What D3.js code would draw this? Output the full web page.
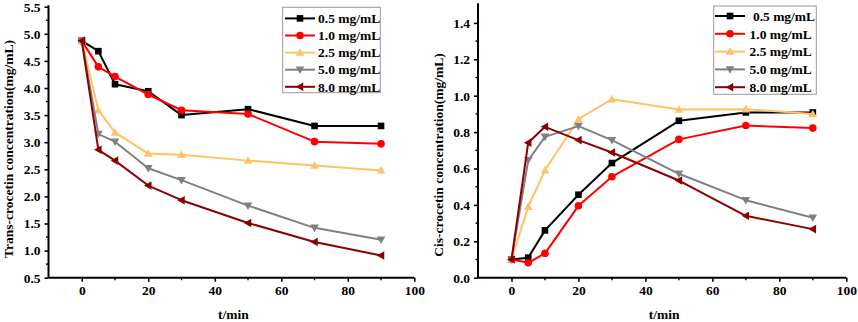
<!DOCTYPE html>
<html>
<head>
<meta charset="utf-8">
<script src="https://cdn.jsdelivr.net/npm/d3@7/dist/d3.min.js"></script>
<style>
html,body{margin:0;padding:0;background:#fff;}
svg{display:block;}
text{font-family:"Liberation Serif","Times New Roman",serif;font-weight:bold;}
</style>
</head>
<body>
<svg id="chart" width="858" height="322"></svg>
<script>
const times = [0, 5, 10, 20, 30, 50, 70, 90];
const seriesLabels = ["0.5 mg/mL", "1.0 mg/mL", "2.5 mg/mL", "5.0 mg/mL", "8.0 mg/mL"];
const rightLabels = [" 0.5 mg/mL", "1.0 mg/mL", "2.5 mg/mL", "5.0 mg/mL", "8.0 mg/mL"];
const colors = ["#000000", "#ff0000", "#ffc266", "#808080", "#8b0000"];
const symbols = ["square", "circle", "up", "down", "left"];

// Trans-crocetin (left)
const trans05 = [4.87, 4.68, 4.07, 3.94, 3.50, 3.61, 3.30, 3.30];
const trans10 = [4.87, 4.39, 4.21, 3.88, 3.59, 3.52, 3.01, 2.97];
const trans25 = [4.87, 3.59, 3.18, 2.79, 2.77, 2.66, 2.57, 2.48];
const trans50 = [4.87, 3.15, 3.01, 2.52, 2.30, 1.83, 1.42, 1.20];
const trans80 = [4.87, 2.86, 2.66, 2.20, 1.93, 1.51, 1.16, 0.91];

// Cis-crocetin (right)
const cis05 = [0.10, 0.11, 0.26, 0.456, 0.63, 0.862, 0.908, 0.908];
const cis10 = [0.10, 0.082, 0.134, 0.395, 0.555, 0.76, 0.836, 0.822];
const cis25 = [0.10, 0.39, 0.59, 0.871, 0.981, 0.924, 0.926, 0.899];
const cis50 = [0.10, 0.645, 0.774, 0.833, 0.756, 0.571, 0.426, 0.329];
const cis80 = [0.10, 0.742, 0.829, 0.756, 0.688, 0.534, 0.34, 0.267];

const xTicks = [0, 20, 40, 60, 80, 100];
const leftYTicks = [0.5, 1.0, 1.5, 2.0, 2.5, 3.0, 3.5, 4.0, 4.5, 5.0, 5.5];
const rightYTicks = [0.0, 0.2, 0.4, 0.6, 0.8, 1.0, 1.2, 1.4];

const svg = d3.select("#chart");

function marker(g, type, x, y, color) {
  let p;
  if (type === "square") {
    g.append("rect").attr("x", x - 3.3).attr("y", y - 3.3).attr("width", 6.6).attr("height", 6.6).attr("fill", color);
    return;
  }
  if (type === "circle") {
    g.append("circle").attr("cx", x).attr("cy", y).attr("r", 3.8).attr("fill", color);
    return;
  }
  const t = 4.3;
  if (type === "up") p = [[x, y - t], [x + t, y + t * 0.75], [x - t, y + t * 0.75]];
  if (type === "down") p = [[x, y + t], [x + t, y - t * 0.75], [x - t, y - t * 0.75]];
  if (type === "left") p = [[x - t, y], [x + t * 0.75, y - t], [x + t * 0.75, y + t]];
  g.append("path").attr("d", "M" + p.map(d => d.join(",")).join("L") + "Z").attr("fill", color);
}

function panel(cfg) {
  const x = d3.scaleLinear().domain([-10, 100]).range(cfg.xr);
  const y = d3.scaleLinear().domain(cfg.yd).range(cfg.yr);
  const g = svg.append("g");

  const xMinor = d3.range(10, 100, 20);
  const yMinor = cfg.yMinor;
  const axX = g.append("g").attr("transform", `translate(0,${cfg.yr[0]})`)
    .call(d3.axisBottom(x).tickValues(xTicks).tickSize(4).tickSizeOuter(0).tickPadding(4).tickFormat(d3.format("d")));
  axX.select(".domain").attr("stroke-width", 2).attr("d", `M${cfg.xr[0]},0H${cfg.xr[1]}`);
  axX.selectAll(".tick line").attr("stroke-width", 1.6);
  axX.selectAll("text").attr("font-size", 13.5).attr("font-family", "Liberation Serif").attr("font-weight", "bold").attr("fill", "#000");
  axX.selectAll(".minor").data(xMinor).enter().append("line").attr("class", "minor")
    .attr("x1", d => x(d)).attr("x2", d => x(d)).attr("y1", 0).attr("y2", 2.5).attr("stroke", "#000").attr("stroke-width", 1.4);

  const axY = g.append("g").attr("transform", `translate(${cfg.xr[0]},0)`)
    .call(d3.axisLeft(y).tickValues(cfg.yTicks).tickSize(4).tickSizeOuter(0).tickPadding(4).tickFormat(d3.format(".1f")));
  axY.select(".domain").attr("stroke-width", 2).attr("d", `M0,${cfg.yr[0]}V${cfg.yr[1] - 1.5}`);
  axY.selectAll(".tick line").attr("stroke-width", 1.6);
  axY.selectAll("text").attr("font-size", 13.5).attr("font-family", "Liberation Serif").attr("font-weight", "bold").attr("fill", "#000");
  axY.selectAll(".minor").data(yMinor).enter().append("line").attr("class", "minor")
    .attr("y1", d => y(d)).attr("y2", d => y(d)).attr("x1", 0).attr("x2", -2.5).attr("stroke", "#000").attr("stroke-width", 1.4);

  g.append("text").attr("x", (cfg.xr[0] + cfg.xr[1]) / 2 + 2).attr("y", 319)
    .attr("text-anchor", "middle").attr("font-size", 13.5).text("t/min");
  g.append("text").attr("transform", `translate(${cfg.ytx},${cfg.ytc}) rotate(-90)`)
    .attr("text-anchor", "middle").attr("dy", "0.35em").attr("font-size", 13.5).text(cfg.ytitle);

  const line = d3.line().x((d, i) => x(times[i])).y(d => y(d));
  cfg.series.forEach((vals, si) => {
    g.append("path").datum(vals).attr("d", line).attr("fill", "none")
      .attr("stroke", colors[si]).attr("stroke-width", 2).attr("stroke-linejoin", "round");
    vals.forEach((v, i) => marker(g, symbols[si], x(times[i]), y(v), colors[si]));
  });

  const L = cfg.legend;
  const lg = g.append("g");
  lg.append("rect").attr("x", L.x).attr("y", L.y).attr("width", L.w).attr("height", L.h)
    .attr("fill", "#fff").attr("stroke", "#999").attr("stroke-width", 1);
  cfg.labels.forEach((lab, i) => {
    const yy = L.row0 + i * L.step;
    lg.append("line").attr("x1", L.lx).attr("x2", L.lx + 30).attr("y1", yy).attr("y2", yy)
      .attr("stroke", colors[i]).attr("stroke-width", 2);
    marker(lg, symbols[i], L.lx + 15, yy, colors[i]);
    lg.append("text").attr("x", L.tx).attr("y", yy).attr("dy", "0.35em").attr("font-size", 13.5)
      .style("white-space", "pre").text(lab);
  });
}

panel({
  xr: [48.5, 414.3], yd: [0.5, 5.5], yr: [277.7, 6.7],
  yTicks: leftYTicks, yMinor: d3.range(0.75, 5.5, 0.5),
  ytx: 8, ytc: 149, ytitle: "Trans-crocetin concentration(mg/mL)",
  series: [trans05, trans10, trans25, trans50, trans80],
  labels: seriesLabels,
  legend: { x: 282.7, y: 7.3, w: 97.6, h: 85.4, row0: 18.4, step: 17.1, lx: 285, tx: 318 }
});

panel({
  xr: [478, 846.3], yd: [0, 1.5], yr: [277.7, 4.7],
  yTicks: rightYTicks, yMinor: d3.range(0.1, 1.5, 0.2),
  ytx: 438, ytc: 155, ytitle: "Cis-crocetin concentration(mg/mL)",
  series: [cis05, cis10, cis25, cis50, cis80],
  labels: rightLabels,
  legend: { x: 713.7, y: 6, w: 102.6, h: 88.3, row0: 16, step: 17.8, lx: 715, tx: 749.5 }
});
</script>
</body>
</html>
